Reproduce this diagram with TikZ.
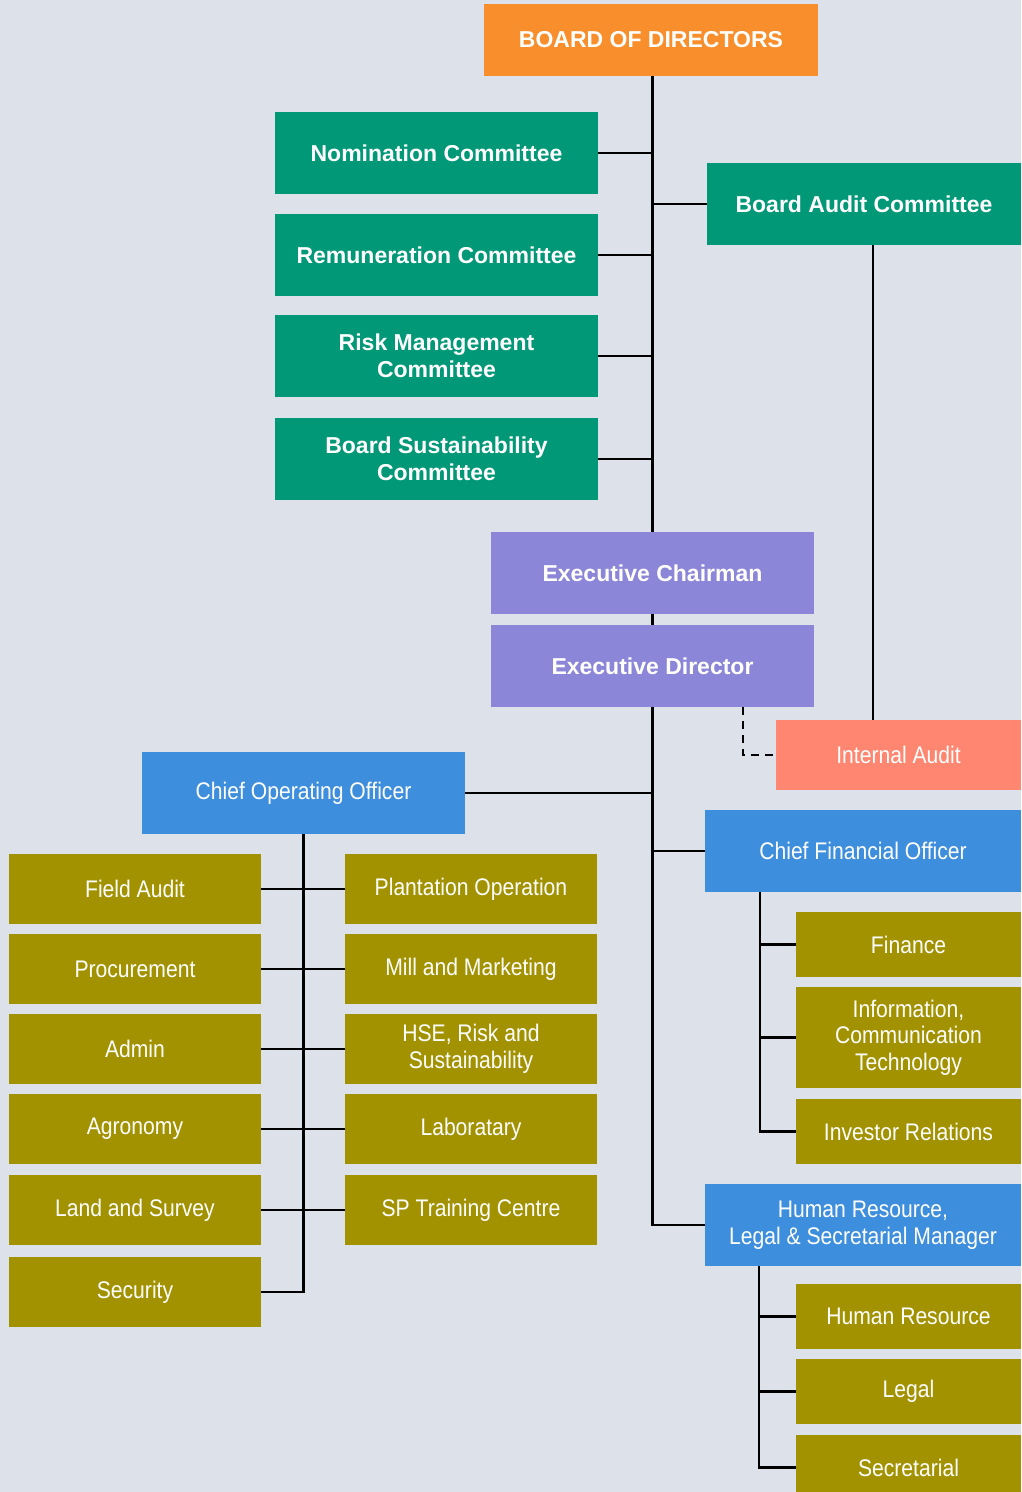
\documentclass[tikz,border=0pt]{standalone}
\usepackage{fontspec}
\setmainfont{Liberation Sans}
\newfontfamily\regfont[FakeStretch=0.88]{Liberation Sans}
\newfontfamily\bldfont{Liberation Sans Bold}
\definecolor{bgc}{HTML}{DDE1EA}
\definecolor{orangec}{HTML}{F98E2C}
\definecolor{greenc}{HTML}{019877}
\definecolor{purplec}{HTML}{8C86D8}
\definecolor{salmonc}{HTML}{FF8670}
\definecolor{bluec}{HTML}{3D8EDD}
\definecolor{olivec}{HTML}{A39200}
\begin{document}
\begin{tikzpicture}[x=1pt,y=-1pt,
  box/.style={rectangle, inner sep=0pt, text=white, align=center, draw=none},
  boldbox/.style={box, font=\bldfont\fontsize{23}{27}\selectfont},
  regbox/.style={box, font=\regfont\fontsize{24}{26.5}\selectfont},
  bw/.style={minimum width=#1 pt},
  bh/.style={minimum height=#1 pt},
  conn/.style={line width=2.5pt, black},
  dconn/.style={line width=2.5pt, black, dash pattern=on 8pt off 6pt}]
\fill[bgc] (0,0) rectangle (1021,1492);
\useasboundingbox (0,0) rectangle (1021,1492);
\clip (0,0) rectangle (1021,1492);
% coordinates for vertical line positions
\coordinate (audx) at (873,0);
\coordinate (dx) at (743,0);
\coordinate (cx) at (760,0);
\coordinate (hx) at (759,0);
% board and committees
\node[boldbox, fill=orangec, bw=334, bh=72] (board) at (651,40) {BOARD OF DIRECTORS};
\node[boldbox, fill=greenc, bw=323, bh=82] (nom) at (436.5,153) {Nomination Committee};
\node[boldbox, fill=greenc, bw=323, bh=82] (rem) at (436.5,255) {Remuneration Committee};
\node[boldbox, fill=greenc, bw=323, bh=82] (risk) at (436.5,356) {Risk Management\\Committee};
\node[boldbox, fill=greenc, bw=323, bh=82] (sus) at (436.5,459) {Board Sustainability\\Committee};
\node[boldbox, fill=greenc, bw=314, bh=82] (bac) at (864,204) {Board Audit Committee};
\node[boldbox, fill=purplec, bw=323, bh=82] (ech) at (652.5,573) {Executive Chairman};
\node[boldbox, fill=purplec, bw=323, bh=82] (edir) at (652.5,666) {Executive Director};
\node[regbox, fill=salmonc, bw=245, bh=70] (ia) at (898.5,755) {Internal Audit};
% officers
\node[regbox, fill=bluec, bw=323, bh=82] (coo) at (303.5,793) {Chief Operating Officer};
\node[regbox, fill=bluec, bw=316, bh=82] (cfo) at (863,851) {Chief Financial Officer};
\node[regbox, fill=bluec, bw=316, bh=82] (hrm) at (863,1225) {Human Resource,\\Legal \& Secretarial Manager};
% COO children left
\node[regbox, fill=olivec, bw=252, bh=70] (l1) at (135,889) {Field Audit};
\node[regbox, fill=olivec, bw=252, bh=70] (l2) at (135,969) {Procurement};
\node[regbox, fill=olivec, bw=252, bh=70] (l3) at (135,1049) {Admin};
\node[regbox, fill=olivec, bw=252, bh=70] (l4) at (135,1129) {Agronomy};
\node[regbox, fill=olivec, bw=252, bh=70] (l5) at (135,1210) {Land and Survey};
\node[regbox, fill=olivec, bw=252, bh=70] (l6) at (135,1292) {Security};
% COO children middle
\node[regbox, fill=olivec, bw=252, bh=70] (m1) at (471,889) {Plantation Operation};
\node[regbox, fill=olivec, bw=252, bh=70] (m2) at (471,969) {Mill and Marketing};
\node[regbox, fill=olivec, bw=252, bh=70] (m3) at (471,1049) {HSE, Risk and\\Sustainability};
\node[regbox, fill=olivec, bw=252, bh=70] (m4) at (471,1129) {Laboratary};
\node[regbox, fill=olivec, bw=252, bh=70] (m5) at (471,1210) {SP Training Centre};
% CFO children
\node[regbox, fill=olivec, bw=225, bh=65] (fin) at (908.5,944.5) {Finance};
\node[regbox, fill=olivec, bw=225, bh=101] (ict) at (908.5,1037.5) {Information,\\Communication\\Technology};
\node[regbox, fill=olivec, bw=225, bh=65] (inv) at (908.5,1131.5) {Investor Relations};
% HR children
\node[regbox, fill=olivec, bw=225, bh=65] (hr) at (908.5,1316.5) {Human Resource};
\node[regbox, fill=olivec, bw=225, bh=65] (leg) at (908.5,1391.5) {Legal};
\node[regbox, fill=olivec, bw=225, bh=65] (secr) at (908.5,1467.5) {Secretarial};
% connectors
\draw[conn] (board.south -| ech.north) -- (ech.north);
\draw[conn] (nom.east) -- (nom.east -| ech.north);
\draw[conn] (rem.east) -- (rem.east -| ech.north);
\draw[conn] (risk.east) -- (risk.east -| ech.north);
\draw[conn] (sus.east) -- (sus.east -| ech.north);
\draw[conn] (bac.west) -- (bac.west -| ech.north);
\draw[conn] (ech.south) -- (edir.north);
\draw[conn] (bac.south -| audx) -- (ia.north -| audx);
\draw[dconn] (edir.south -| dx) -- (ia.west -| dx) -- (ia.west);
\draw[conn] (edir.south) -- (edir.south |- hrm.west) -- (hrm.west);
\draw[conn] (coo.east) -- (coo.east -| edir.south);
\draw[conn] (cfo.west) -- (cfo.west -| edir.south);
% COO tree
\draw[conn] (coo.south) -- (coo.south |- l6.east) -- (l6.east);
\draw[conn] (l1.east) -- (m1.west);
\draw[conn] (l2.east) -- (m2.west);
\draw[conn] (l3.east) -- (m3.west);
\draw[conn] (l4.east) -- (m4.west);
\draw[conn] (l5.east) -- (m5.west);
% CFO tree
\draw[conn] (cfo.south -| cx) -- (inv.west -| cx) -- (inv.west);
\draw[conn] (fin.west) -- (fin.west -| cx);
\draw[conn] (ict.west) -- (ict.west -| cx);
% HR tree
\draw[conn] (hrm.south -| hx) -- (secr.west -| hx) -- (secr.west);
\draw[conn] (hr.west) -- (hr.west -| hx);
\draw[conn] (leg.west) -- (leg.west -| hx);
\end{tikzpicture}
\end{document}
